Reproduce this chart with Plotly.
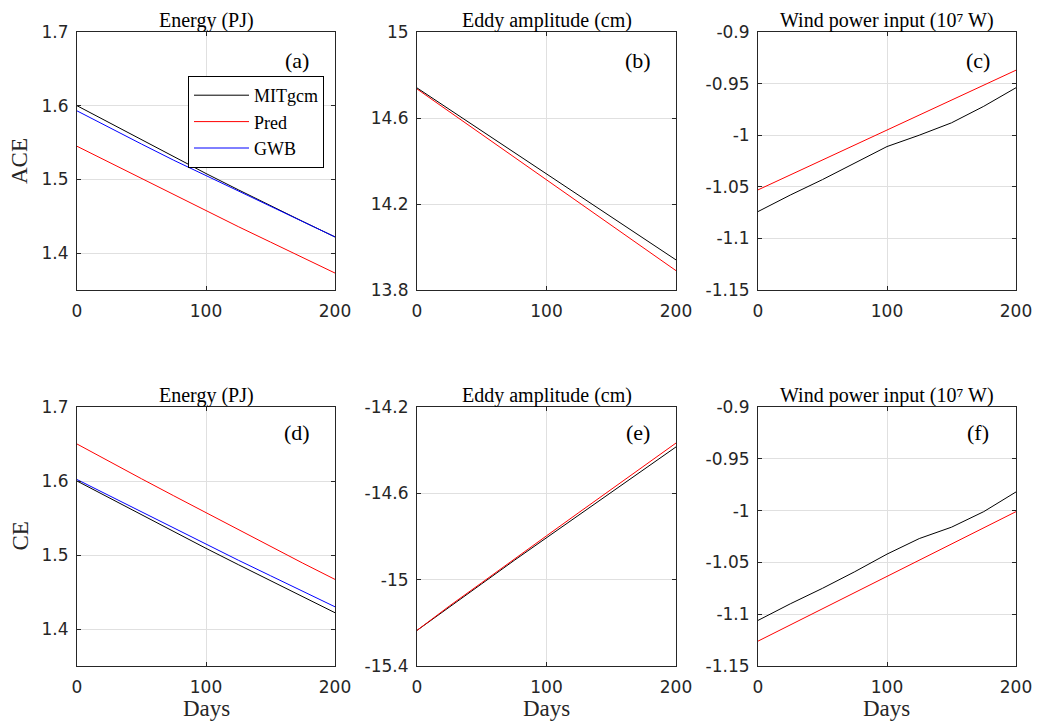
import plotly.graph_objects as go

# day axis shared by all panels
days = [0, 25, 50, 75, 100, 125, 150, 175, 200]

# (a) ACE energy (PJ)
ace_energy_mit = [1.600, 1.577, 1.553, 1.530, 1.508, 1.486, 1.464, 1.443, 1.422]
ace_energy_pred = [1.545, 1.523, 1.501, 1.479, 1.458, 1.436, 1.415, 1.394, 1.373]
ace_energy_gwb = [1.593, 1.570, 1.548, 1.526, 1.505, 1.484, 1.463, 1.442, 1.422]

# (b) ACE eddy amplitude (cm)
ace_amp_mit = [14.74, 14.64, 14.54, 14.44, 14.34, 14.24, 14.14, 14.04, 13.94]
ace_amp_pred = [14.735, 14.629, 14.523, 14.418, 14.313, 14.207, 14.101, 13.996, 13.89]

# (c) ACE wind power input (1e7 W)
ace_wind_mit = [-1.074, -1.058, -1.043, -1.027, -1.011, -1.000, -0.988, -0.972, -0.954]
ace_wind_pred = [-1.053, -1.0385, -1.024, -1.0095, -0.995, -0.9805, -0.966, -0.9515, -0.937]

# (d) CE energy (PJ)
ce_energy_mit = [1.600, 1.577, 1.554, 1.531, 1.509, 1.487, 1.465, 1.443, 1.422]
ce_energy_pred = [1.650, 1.626, 1.603, 1.580, 1.557, 1.534, 1.512, 1.489, 1.467]
ce_energy_gwb = [1.602, 1.580, 1.558, 1.536, 1.514, 1.493, 1.472, 1.451, 1.430]

# (e) CE eddy amplitude (cm)
ce_amp_mit = [-15.235, -15.125, -15.019, -14.911, -14.805, -14.699, -14.594, -14.489, -14.385]
ce_amp_pred = [-15.235, -15.122, -15.014, -14.904, -14.797, -14.689, -14.582, -14.474, -14.367]

# (f) CE wind power input (1e7 W)
ce_wind_mit = [-1.106, -1.090, -1.075, -1.059, -1.042, -1.027, -1.016, -1.001, -0.982]
ce_wind_pred = [-1.126, -1.1104, -1.0948, -1.0792, -1.0635, -1.0479, -1.0323, -1.0167, -1.001]

panel_titles = ["Energy (PJ)", "Eddy amplitude (cm)", "Wind power input (10\u2077 W)"] * 2
panel_tags = ["(a)", "(b)", "(c)", "(d)", "(e)", "(f)"]
row_labels = ["ACE", "CE"]

yranges = [[1.35, 1.7], [13.8, 15], [-1.15, -0.9], [1.35, 1.7], [-15.4, -14.2], [-1.15, -0.9]]
yticks = [
    [1.4, 1.5, 1.6, 1.7],
    [13.8, 14.2, 14.6, 15],
    [-1.15, -1.1, -1.05, -1, -0.95, -0.9],
    [1.4, 1.5, 1.6, 1.7],
    [-15.4, -15, -14.6, -14.2],
    [-1.15, -1.1, -1.05, -1, -0.95, -0.9],
]

panels = [
    [("MITgcm", ace_energy_mit, "black"), ("Pred", ace_energy_pred, "red"), ("GWB", ace_energy_gwb, "blue")],
    [("Pred", ace_amp_pred, "red"), ("MITgcm", ace_amp_mit, "black")],
    [("Pred", ace_wind_pred, "red"), ("MITgcm", ace_wind_mit, "black")],
    [("Pred", ce_energy_pred, "red"), ("GWB", ce_energy_gwb, "blue"), ("MITgcm", ce_energy_mit, "black")],
    [("MITgcm", ce_amp_mit, "black"), ("Pred", ce_amp_pred, "red")],
    [("Pred", ce_wind_pred, "red"), ("MITgcm", ce_wind_mit, "black")],
]

# page body adds an 8px margin, so work in screen pixels minus 8
OFF = 8
W, H = 1042 - OFF, 722 - OFF
def px(v):
    return (v - OFF) / W
def py(v):
    return 1 - (v - OFF) / H

xdoms = [[px(77), px(335)], [px(417), px(676)], [px(758), px(1016)]]
ydoms = [[py(290), py(32)], [py(666), py(407)]]

serif = "Liberation Serif, DejaVu Serif, serif"
sans = "DejaVu Sans, sans-serif"
ink = "#262626"

fig = go.Figure()
annotations = []
layout = {}

for i in range(6):
    r, c = divmod(i, 3)
    n = i + 1
    xa = "x" if n == 1 else "x%d" % n
    ya = "y" if n == 1 else "y%d" % n

    for name, vals, col in panels[i]:
        fig.add_trace(go.Scatter(
            x=days, y=vals, mode="lines", name=name,
            line=dict(color=col, width=1),
            xaxis=xa, yaxis=ya, showlegend=(i == 0),
        ))

    layout["xaxis" if n == 1 else "xaxis%d" % n] = dict(
        domain=xdoms[c], anchor=ya, range=[0, 200], tickvals=[0, 100, 200],
        showgrid=True, gridcolor="#e0e0e0", gridwidth=1, zeroline=False,
        showline=True, mirror="ticks", linecolor=ink, linewidth=1,
        ticks="inside", ticklen=4, tickcolor=ink, ticklabelstandoff=6,
        tickfont=dict(family=sans, size=17, color=ink),
        automargin=False,
    )
    layout["yaxis" if n == 1 else "yaxis%d" % n] = dict(
        domain=ydoms[r], anchor=xa, range=yranges[i], tickvals=yticks[i],
        ticktext=[("%g" % v) for v in yticks[i]],
        showgrid=True, gridcolor="#e0e0e0", gridwidth=1, zeroline=False,
        showline=True, mirror="ticks", linecolor=ink, linewidth=1,
        ticks="inside", ticklen=4, tickcolor=ink, ticklabelstandoff=4,
        tickfont=dict(family=sans, size=17, color=ink),
        automargin=False,
    )

    xmid = (xdoms[c][0] + xdoms[c][1]) / 2
    annotations.append(dict(
        text=panel_titles[i], x=xmid, y=ydoms[r][1], xref="paper", yref="paper",
        xanchor="center", yanchor="bottom", yshift=-1, showarrow=False,
        borderpad=0,
        font=dict(family=serif, size=20, color="black"),
    ))
    annotations.append(dict(
        text=panel_tags[i], x=0.853, y=0.89 if r == 0 else 0.9,
        xref="%s domain" % xa, yref="%s domain" % ya,
        xanchor="center", yanchor="middle", showarrow=False,
        font=dict(family=serif, size=22, color="black"),
    ))
    if r == 1:
        annotations.append(dict(
            text="Days", x=xmid, y=py(708), xref="paper", yref="paper",
            xanchor="center", yanchor="middle", showarrow=False,
            font=dict(family=serif, size=23, color=ink),
        ))
    if c == 0:
        annotations.append(dict(
            text=row_labels[r], x=px(20), y=(ydoms[r][0] + ydoms[r][1]) / 2,
            xref="paper", yref="paper", textangle=-90,
            xanchor="center", yanchor="middle", showarrow=False,
            font=dict(family=serif, size=23, color=ink),
        ))

fig.update_layout(
    **layout,
    width=W, height=H,
    margin=dict(l=0, r=0, t=0, b=0),
    paper_bgcolor="white", plot_bgcolor="white",
    annotations=annotations,
    showlegend=True,
    legend=dict(
        x=px(324), y=py(76), xanchor="right", yanchor="top",
        bordercolor="black", borderwidth=1, bgcolor="white",
        font=dict(family=serif, size=18, color="black"),
        tracegroupgap=0, itemwidth=55,
    ),
)

fig.write_html("out.html")
